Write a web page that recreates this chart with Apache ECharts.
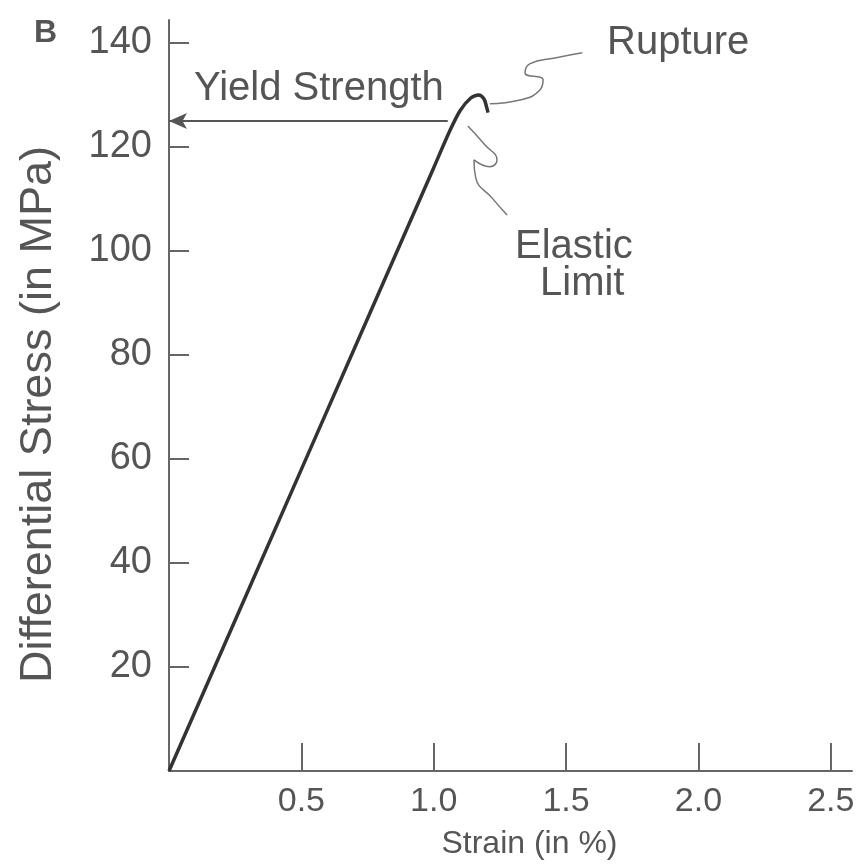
<!DOCTYPE html>
<html>
<head>
<meta charset="utf-8">
<script src="https://cdn.jsdelivr.net/npm/echarts@6/dist/echarts.min.js"></script>
<style>
  html, body { margin: 0; padding: 0; background: #fff; }
  #chart { width: 858px; height: 867px; }
</style>
</head>
<body>
<div id="chart"></div>
<script>
// stress-strain curve
var strain = [0, 0.5, 1.0, 1.06, 1.10, 1.14, 1.17, 1.19, 1.20, 1.205];
var stress = [0, 58, 116, 123, 127, 129.4, 130, 129.2, 127.6, 126.6];

var xTicks = [0.5, 1.0, 1.5, 2.0, 2.5];
var yTicks = [20, 40, 60, 80, 100, 120, 140];

// yield strength arrow
var yieldStress = 125;
var yieldArrowStart = 1.053;

// leader lines for the annotations
var ruptureLeaderX = [1.212, 1.326, 1.402, 1.413, 1.345, 1.364, 1.458, 1.561];
var ruptureLeaderY = [128.3, 129.0, 131.0, 132.9, 134.2, 136.0, 137.1, 138.1];
var elasticLeaderX = [1.129, 1.193, 1.239, 1.212, 1.152, 1.159, 1.220, 1.277];
var elasticLeaderY = [124.0, 120.4, 117.5, 116.2, 117.5, 114.0, 110.2, 106.9];

function pairs(xs, ys) {
  return xs.map(function (x, i) { return [x, ys[i]]; });
}

var textColor = '#555';
var axisColor = '#666';
var font = 'Liberation Sans';
var noteFont = '40px "Liberation Sans"';

var chart = echarts.init(document.getElementById('chart'));

var option = {
  animation: false,
  backgroundColor: '#fff',
  grid: { left: 169, top: 20, right: 6, bottom: 96 },
  xAxis: {
    type: 'value',
    min: 0,
    max: 2.58,
    name: 'Strain (in %)',
    nameLocation: 'middle',
    nameGap: 57,
    nameTextStyle: { color: textColor, fontSize: 32, fontFamily: font, padding: [0, 0, 0, 38] },
    axisLine: { lineStyle: { color: axisColor, width: 2 } },
    axisTick: { inside: true, length: 28, customValues: xTicks, lineStyle: { color: axisColor, width: 2 } },
    axisLabel: {
      customValues: xTicks,
      color: textColor, fontSize: 34, fontFamily: font, margin: 14,
      formatter: function (v) { return v.toFixed(1); }
    },
    splitLine: { show: false }
  },
  yAxis: {
    type: 'value',
    min: 0,
    max: 144.4,
    name: 'Differential Stress (in MPa)',
    nameLocation: 'middle',
    nameGap: 108,
    nameTextStyle: { color: textColor, fontSize: 45, fontFamily: font, padding: [0, 38, 0, 0] },
    axisLine: { show: true, lineStyle: { color: axisColor, width: 2 } },
    axisTick: { show: true, inside: true, length: 20, customValues: yTicks, lineStyle: { color: axisColor, width: 2 } },
    axisLabel: {
      customValues: yTicks,
      color: textColor, fontSize: 38, fontFamily: font, margin: 17
    },
    splitLine: { show: false }
  },
  series: [
    {
      type: 'line',
      data: pairs(strain, stress),
      smooth: 0.3,
      showSymbol: false,
      lineStyle: { color: '#333', width: 3.5 },
      markLine: {
        silent: true,
        symbol: ['none', 'arrow'],
        symbolSize: [12, 18],
        label: { show: false },
        lineStyle: { color: '#555', width: 2, type: 'solid' },
        data: [[{ coord: [yieldArrowStart, yieldStress] }, { coord: [0, yieldStress] }]]
      }
    },
    {
      type: 'line',
      data: pairs(ruptureLeaderX, ruptureLeaderY),
      smooth: 0.5,
      showSymbol: false,
      lineStyle: { color: '#777', width: 1.5 }
    },
    {
      type: 'line',
      data: pairs(elasticLeaderX, elasticLeaderY),
      smooth: 0.5,
      showSymbol: false,
      lineStyle: { color: '#777', width: 1.5 }
    }
  ],
  graphic: [
    { type: 'text', left: 34, top: 17, style: { text: 'B', fill: '#555', font: 'bold 32px "Liberation Sans"' } },
    { type: 'text', left: 194, top: 69, style: { text: 'Yield Strength', fill: textColor, font: noteFont } },
    { type: 'text', left: 607, top: 23, style: { text: 'Rupture', fill: textColor, font: noteFont } },
    { type: 'text', left: 515, top: 227, style: { text: 'Elastic', fill: textColor, font: noteFont } },
    { type: 'text', left: 540, top: 264, style: { text: 'Limit', fill: textColor, font: noteFont } }
  ]
};

chart.setOption(option);
</script>
</body>
</html>
